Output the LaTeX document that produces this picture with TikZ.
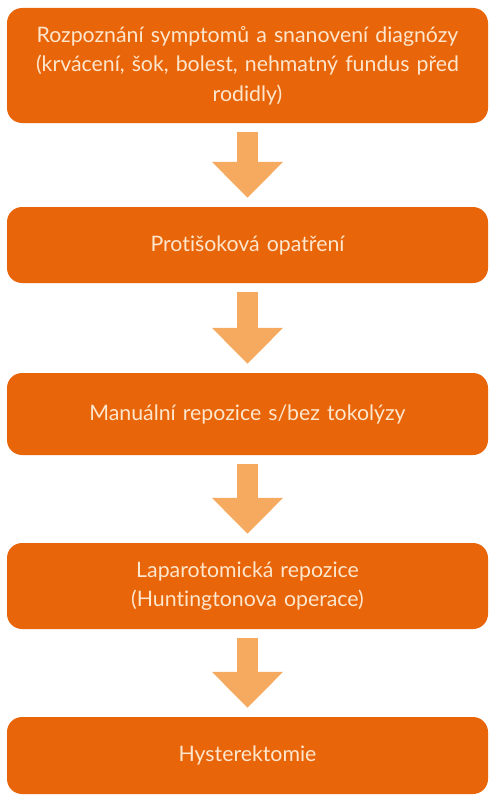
\documentclass[tikz,border=0pt]{standalone}
\usepackage{fontspec}
\setmainfont{Lato}[Ligatures={NoCommon,NoContextual}, RawFeature={-calt}]
\usepackage{xcolor}
\usepackage{tikz}
\usetikzlibrary{arrows.meta}
\definecolor{boxorange}{HTML}{E8650A}
\definecolor{arroworange}{HTML}{F5AA60}
\definecolor{boxtext}{HTML}{FDE6CC}

\begin{document}
\begin{tikzpicture}[
			     x=1pt, y=1pt,
			     stepbox/.style={fill=boxorange, rounded corners=15pt, minimum width=481pt, text width=470pt, align=center, text=boxtext, inner sep=0pt, font=\fontsize{21.3}{29.5}\selectfont},
			     bigarrow/.style={draw=arroworange, line width=21pt, -{Triangle[length=36pt,width=69pt]}, shorten <=9pt, shorten >=9pt}
			     ] 
\useasboundingbox (0,0) rectangle (495,-800);
%
\node[stepbox, minimum height=115pt] (diag) at (247.5,-65.5) {Rozpoznání symptomů a snanovení diagnózy\\(krvácení, šok, bolest, nehmatný fundus před\\rodidly)};
\node[stepbox, minimum height=76pt] (shock) at (247.5,-245) {Protišoková opatření};
\node[stepbox, minimum height=82pt] (manual) at (247.5,-414) {Manuální repozice s/bez tokolýzy};
\node[stepbox, minimum height=86pt] (lapar) at (247.5,-586) {Laparotomická repozice\\(Huntingtonova operace)};
\node[stepbox, minimum height=77pt] (hyst) at (247.5,-755.5) {Hysterektomie};
%
\path (diag) edge[bigarrow] (shock);
\path (shock) edge[bigarrow] (manual);
\path (manual) edge[bigarrow] (lapar);
\path (lapar) edge[bigarrow] (hyst);
\end{tikzpicture}
\end{document}
